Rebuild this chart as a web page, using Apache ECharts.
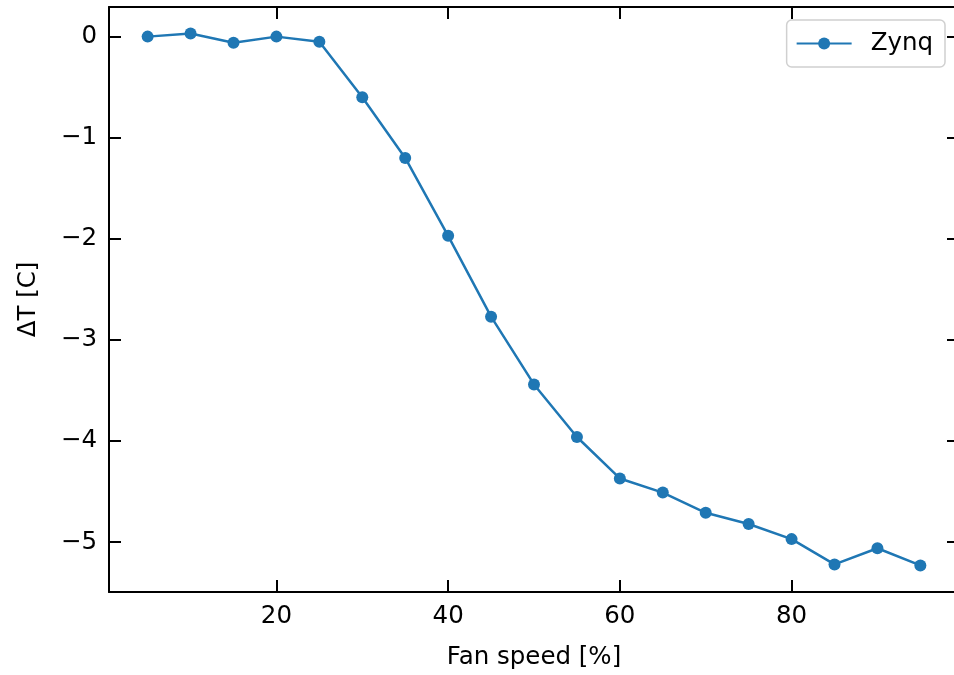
<!DOCTYPE html>
<html>
<head>
<meta charset="utf-8">
<script src="https://cdn.jsdelivr.net/npm/echarts@6/dist/echarts.min.js"></script>
<style>
html,body{margin:0;padding:0;background:#fff;overflow:hidden;width:954px;height:675px;}
#chart{width:966px;height:675px;}
</style>
</head>
<body>
<div id="chart"></div>
<script>
const fanSpeed = [5,10,15,20,25,30,35,40,45,50,55,60,65,70,75,80,85,90,95];
const deltaT = [0.00,0.03,-0.06,0.00,-0.05,-0.60,-1.20,-1.97,-2.77,-3.44,-3.96,-4.37,-4.51,-4.71,-4.82,-4.97,-5.22,-5.06,-5.23];
const xTicks = [20,40,60,80];
const yTicks = [-5,-4,-3,-2,-1,0];
const seriesName = 'Zynq';
const xLabel = 'Fan speed [%]';
const yLabel = '\u0394T [C]';

const FONT = 'DejaVu Sans';
const FS = 24.5;
const xs = fanSpeed;
const xmin0 = Math.min(...xs), xmax0 = Math.max(...xs);
const ymin0 = Math.min(...deltaT), ymax0 = Math.max(...deltaT);
const xm = (xmax0 - xmin0) * 0.05, ym = (ymax0 - ymin0) * 0.05;
const xMin = xmin0 - xm, xMax = xmax0 + xm;
const yMin = ymin0 - ym, yMax = ymax0 + ym;

const lineStyle = {color:'#000', width:2};
const fmt = v => String(v).replace('-', '\u2212');

function xAxis(pos, showLabel){
  return {
    type:'value', position:pos, min:xMin, max:xMax,
    name: showLabel ? xLabel : '', nameLocation:'middle', nameGap:53,
    nameTextStyle:{fontFamily:FONT, fontSize:FS, color:'#000'},
    axisLine:{show:true, onZero:false, lineStyle},
    axisTick:{show:true, inside:true, length:12, lineStyle, customValues:xTicks},
    axisLabel:{show:showLabel, customValues:xTicks, formatter:fmt, margin:12,
      fontFamily:FONT, fontSize:FS, color:'#000'},
    splitLine:{show:false}
  };
}
function yAxis(pos, showLabel){
  return {
    type:'value', position:pos, min:yMin, max:yMax,
    name: showLabel ? yLabel : '', nameLocation:'middle', nameGap:68,
    nameTextStyle:{fontFamily:FONT, fontSize:FS, color:'#000'},
    axisLine:{show:true, onZero:false, lineStyle},
    axisTick:{show:true, inside:true, length:12, lineStyle, customValues:yTicks},
    axisLabel:{show:showLabel, customValues:yTicks, formatter:fmt, margin:12,
      fontFamily:FONT, fontSize:FS, color:'#000'},
    splitLine:{show:false}
  };
}

const chart = echarts.init(document.getElementById('chart'), null, {renderer:'canvas'});
chart.setOption({
  animation:false,
  backgroundColor:'#fff',
  grid:{left:109, right:7, top:7, bottom:83, containLabel:false},
  xAxis:[xAxis('bottom', true), xAxis('top', false)],
  yAxis:[yAxis('left', true), yAxis('right', false)],
  legend:{
    show:true, right:21, top:20,
    data:[seriesName],
    backgroundColor:'#fff',
    borderColor:'#d0d0d0', borderWidth:1.5, borderRadius:5,
    padding:[11,12,11,9],
    itemWidth:55, itemHeight:15,
    textStyle:{fontFamily:FONT, fontSize:FS, color:'#000', padding:[0,0,0,14]}
  },
  series:[{
    name:seriesName, type:'line',
    data: fanSpeed.map((x,i)=>[x, deltaT[i]]),
    xAxisIndex:0, yAxisIndex:0,
    symbol:'circle', symbolSize:12,
    itemStyle:{color:'#1f77b4'},
    lineStyle:{color:'#1f77b4', width:2.5},
    z:3
  }]
});
</script>
</body>
</html>
